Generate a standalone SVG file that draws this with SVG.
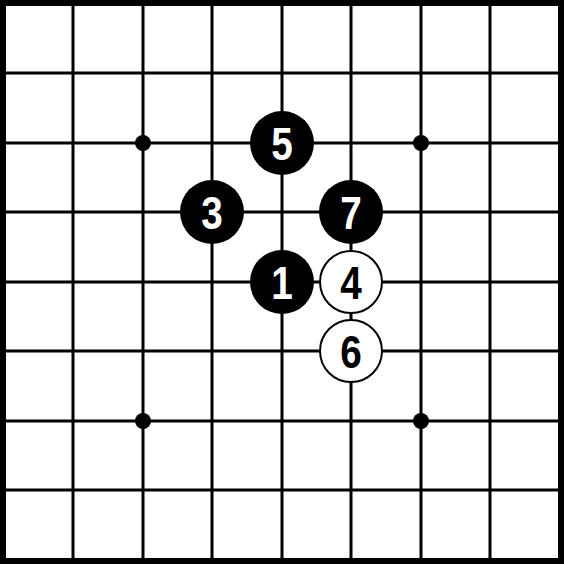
<svg xmlns="http://www.w3.org/2000/svg" width="564" height="564" viewBox="0 0 564 564">
<style>
.grid line{stroke:#000;stroke-width:3}
.b circle{fill:#000}
.w circle{fill:#fff;stroke:#000;stroke-width:2}
.hoshi{fill:#000}
text{font-family:"Liberation Sans",Arial,sans-serif;font-weight:bold;font-size:44px;text-anchor:middle}
.b text{fill:#fff}
.w text{fill:#000}
</style>
<rect x="0" y="0" width="564" height="564" fill="#fff"/>
<g id="grid" class="grid">
<line x1="73" y1="3" x2="73" y2="561"/>
<line x1="143" y1="3" x2="143" y2="561"/>
<line x1="212" y1="3" x2="212" y2="561"/>
<line x1="282" y1="3" x2="282" y2="561"/>
<line x1="351" y1="3" x2="351" y2="561"/>
<line x1="421" y1="3" x2="421" y2="561"/>
<line x1="490" y1="3" x2="490" y2="561"/>
<line x1="3" y1="73" x2="561" y2="73"/>
<line x1="3" y1="143" x2="561" y2="143"/>
<line x1="3" y1="212" x2="561" y2="212"/>
<line x1="3" y1="282" x2="561" y2="282"/>
<line x1="3" y1="351" x2="561" y2="351"/>
<line x1="3" y1="421" x2="561" y2="421"/>
<line x1="3" y1="490" x2="561" y2="490"/>
<rect x="3" y="3" width="558" height="558" fill="none" stroke="#000" stroke-width="6"/>
</g>
<g id="hoshi">
<circle class="hoshi" cx="143" cy="143" r="8"/>
<circle class="hoshi" cx="421" cy="143" r="8"/>
<circle class="hoshi" cx="143" cy="421" r="8"/>
<circle class="hoshi" cx="421" cy="421" r="8"/>
</g>
<g id="stone1" class="b"><circle cx="282" cy="282" r="32"/><text transform="translate(282 299) scale(0.88 1.07)">1</text></g>
<g id="stone3" class="b"><circle cx="212" cy="212" r="32"/><text transform="translate(212 229) scale(0.88 1.07)">3</text></g>
<g id="stone4" class="w"><circle cx="351" cy="282" r="31"/><text transform="translate(351 299) scale(0.88 1.07)">4</text></g>
<g id="stone5" class="b"><circle cx="282" cy="143" r="32"/><text transform="translate(282 160) scale(0.88 1.07)">5</text></g>
<g id="stone6" class="w"><circle cx="351" cy="351" r="31"/><text transform="translate(351 368) scale(0.88 1.07)">6</text></g>
<g id="stone7" class="b"><circle cx="351" cy="212" r="32"/><text transform="translate(351 229) scale(0.88 1.07)">7</text></g>
</svg>
